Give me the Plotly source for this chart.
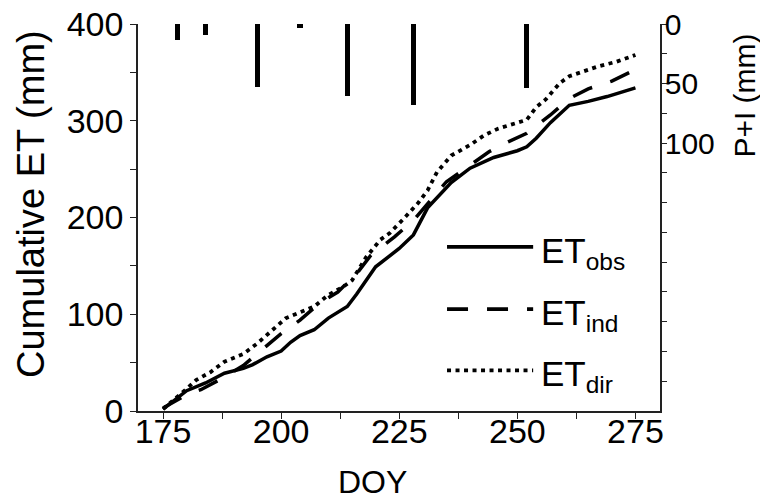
import plotly.graph_objects as go

# ---------------- data ----------------
doy_obs = [175, 178, 180, 184, 188, 192, 194, 197, 200, 202, 204, 207, 210, 214, 216,
           220, 222, 225, 228, 231, 236, 240, 245, 250, 252, 254, 257, 261, 265, 269, 275]
et_obs = [2, 14, 21, 29, 39, 44, 48, 56, 62, 71, 78, 84, 96, 108, 121,
          149, 157, 168, 182, 210, 236, 251, 262, 269, 273, 282, 298, 316, 320, 325, 334]

doy_ind = [175, 178, 180, 183, 188, 192, 196, 200, 204, 208, 212, 216, 219, 224, 228,
           232, 235, 240, 244, 248, 252, 257, 261, 265, 270, 275]
et_ind = [3, 12, 17, 22, 35, 47, 63, 80, 94, 111, 123, 142, 161, 180, 197,
          220, 237, 254, 268, 278, 287, 306, 323, 333, 341, 353]

doy_dir = [175, 177, 180, 182, 185, 188, 192, 195, 198, 201, 205, 207, 210, 213, 215,
           218, 221, 223, 226, 229, 231, 233, 236, 240, 243, 246, 250, 252, 254, 256,
           259, 261, 264, 267, 271, 275]
et_dir = [2, 10, 23, 32, 40, 51, 59, 70, 83, 96, 104, 108, 120, 128, 135,
          159, 177, 184, 199, 215, 228, 247, 264, 275, 285, 292, 298, 301, 314, 322,
          339, 346, 351, 356, 361, 368]

pi_doy = [178, 184, 195, 204, 214, 228, 252]
pi_mm = [13.7, 9.5, 53, 3.4, 60.8, 67.8, 53.8]

x_ticks = [175, 200, 225, 250, 275]
y_ticks = [0, 100, 200, 300, 400]
y2_ticks = [0, 25, 50, 75, 100, 125, 150, 175, 200, 225, 250, 275, 300]
y2_text = ["0", "", "50", "", "100", "", "", "", "", "", "", "", ""]

legend_names = ["obs", "ind", "dir"]

FONT = "Liberation Sans, Arial, sans-serif"
AX = "#222222"

fig = go.Figure()
fig.add_trace(go.Bar(x=pi_doy, y=pi_mm, yaxis="y2", xaxis="x",
                     marker=dict(color="black", line=dict(width=0)),
                     width=1.1, showlegend=False))
fig.add_trace(go.Scatter(x=doy_obs, y=et_obs, mode="lines",
                         line=dict(color="black", width=3.5), showlegend=False))
fig.add_trace(go.Scatter(x=doy_ind, y=et_ind, mode="lines",
                         line=dict(color="black", width=3.5, dash="21px,19px"),
                         showlegend=False))
fig.add_trace(go.Scatter(x=doy_dir, y=et_dir, mode="lines",
                         line=dict(color="black", width=3.8, dash="4px,4.5px"),
                         showlegend=False))

xr = [169.7, 280.2]
fig.update_layout(
    width=760, height=504,
    margin=dict(l=138, r=100, t=24, b=93, autoexpand=False),
    paper_bgcolor="white", plot_bgcolor="white",
    font=dict(family=FONT, color="black", size=34),
    showlegend=False,
    bargap=0,
    xaxis=dict(range=xr, tickvals=x_ticks, ticks="outside", ticklen=6, tickwidth=1.3,
               tickcolor=AX, showline=True, linecolor=AX, linewidth=1.5, automargin=False,
               showgrid=False, zeroline=False, tickfont=dict(size=34), ticklabelstandoff=-17,
               minor=dict(tickvals=[187.5, 212.5, 237.5, 262.5], ticks="outside",
                          ticklen=6, tickwidth=1.3, tickcolor=AX)),
    xaxis2=dict(range=xr, overlaying="x", side="top", anchor="y", automargin=False,
                tickvals=[175, 187.5, 200, 212.5, 225, 237.5, 250, 262.5, 275],
                ticks="inside", ticklen=6, tickwidth=1.3, tickcolor=AX,
                showticklabels=False, showline=True, linecolor=AX, linewidth=1.5,
                showgrid=False, zeroline=False),
    yaxis=dict(range=[0, 400], tickvals=y_ticks, ticks="outside", ticklen=6,
               tickwidth=1.3, tickcolor=AX, showline=True, linecolor=AX, linewidth=1.5,
               showgrid=False, zeroline=False, tickfont=dict(size=34), automargin=False,
               minor=dict(tickvals=[50, 150, 250, 350], ticks="outside", ticklen=6,
                          tickwidth=1.3, tickcolor=AX)),
    yaxis2=dict(range=[325, 0], overlaying="y", side="right", anchor="x",
                tickvals=y2_ticks, ticktext=y2_text, ticks="outside", ticklen=5,
                tickwidth=1.3, tickcolor=AX, showline=True, linecolor=AX, linewidth=1.5,
                showgrid=False, zeroline=False, tickfont=dict(size=30), ticklabelstandoff=-8,
                automargin=False),
)

annotations = [
    dict(text="Cumulative ET (mm)", xref="paper", yref="paper", x=0, y=0.535,
         xanchor="center", yanchor="middle", xshift=-107, textangle=-90,
         showarrow=False, font=dict(size=38)),
    dict(text="DOY", xref="paper", yref="paper", x=0.45, y=0,
         xanchor="center", yanchor="middle", yshift=-71, showarrow=False,
         font=dict(size=32)),
    dict(text="P+I (mm)", xref="paper", yref="paper", x=1, y=0.815,
         xanchor="center", yanchor="middle", xshift=85, textangle=-90,
         showarrow=False, font=dict(size=30)),
]

leg_y = [0.424, 0.263, 0.105]
leg_dash = ["solid", "21px,19px", "4px,4.5px"]
shapes = []
for name, yy, dsh in zip(legend_names, leg_y, leg_dash):
    shapes.append(dict(type="line", xref="paper", yref="paper", x0=0.592, x1=0.757,
                       y0=yy, y1=yy, line=dict(color="black", width=3.8, dash=dsh)))
    annotations.append(dict(text="ET<sub>" + name + "</sub>", xref="paper", yref="paper",
                            x=0.768, y=yy, xanchor="left", yanchor="middle", yshift=-6,
                            showarrow=False, font=dict(size=35)))

fig.update_layout(annotations=annotations, shapes=shapes)
fig.write_html("out.html", config={"displayModeBar": False},
               post_script="document.body.style.margin='0px';")
